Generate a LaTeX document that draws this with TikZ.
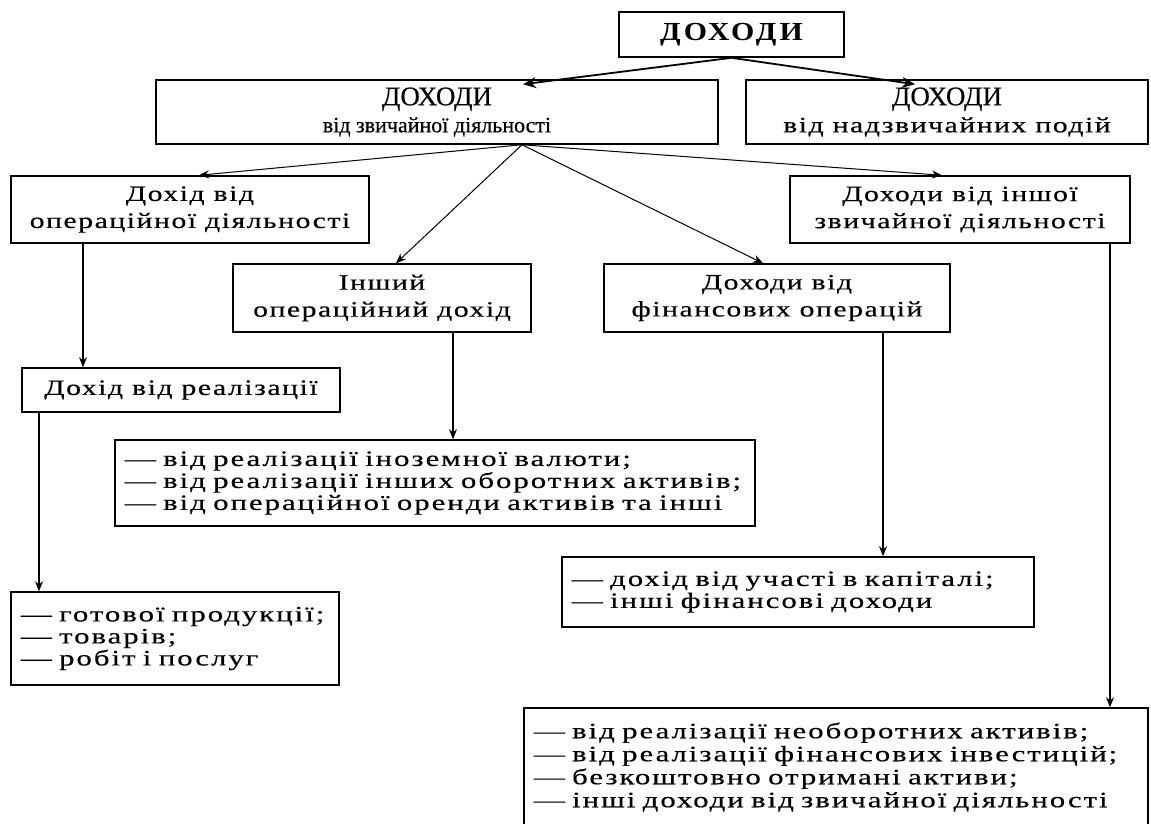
\documentclass[tikz,border=0pt]{standalone}
\usepackage{fontspec}
\setmainfont{Liberation Serif}
\newfontfamily\lblfont[FakeStretch=1.35,LetterSpace=7,FakeBold=0.4]{Liberation Serif}
\newfontfamily\listfont[FakeStretch=1.4,LetterSpace=9,FakeBold=0.4]{Liberation Serif}
\newfontfamily\headfont[FakeBold=0.4]{Liberation Serif}
\newfontfamily\topfont[FakeStretch=1.15,LetterSpace=12]{Liberation Serif}
\usetikzlibrary{arrows.meta}

\tikzset{
  box/.style={draw, line width=1.5pt, inner sep=0pt, align=center,
    font=\lblfont\fontsize{22}{27}\selectfont},
  headbox/.style={draw, line width=1.5pt, inner sep=0pt, align=center,
    font=\headfont\fontsize{22}{27}\selectfont},
  listbox/.style={draw, line width=1.5pt, inner xsep=10pt, inner ysep=0pt, align=left,
    font=\listfont\fontsize{22}{22}\selectfont},
  link/.style={line width=1.3pt, -{Stealth[length=10pt,width=8pt]}},
  thin link/.style={line width=1pt, -{Stealth[length=10pt,width=8pt]}},
  heavy link/.style={line width=1.8pt, -{Stealth[length=13pt,width=11pt]}}
}

\begin{document}
\begin{tikzpicture}[x=1pt,y=-1pt]
\useasboundingbox (0,0) rectangle (1151,823);
\fill[white] (0,0) rectangle (1151,823);
\clip (0,0) rectangle (1151,823);

% top level
\node[draw, line width=1.6pt, minimum width=225pt, minimum height=45pt, inner sep=0pt,
      font=\topfont\bfseries\fontsize{26}{28}\selectfont] (top) at (731.5,34.5) {ДОХОДИ};

% second level
\node[headbox, minimum width=562pt, minimum height=64pt] (ord) at (437,112)
  {{\fontsize{27}{28}\selectfont ДОХОДИ}\\від звичайної діяльності};
\node[headbox, minimum width=402pt, minimum height=64pt] (extra) at (947,112)
  {{\fontsize{27}{28}\selectfont ДОХОДИ}\\{\lblfont\fontsize{22}{27}\selectfont від надзвичайних подій}};

% third level
\node[box, minimum width=358pt, minimum height=67pt] (oper) at (190,209.5)
  {Дохід від\\операційної діяльності};
\node[box, minimum width=340pt, minimum height=67pt] (other) at (960,209.5)
  {Доходи від іншої\\звичайної діяльності};
\node[box, minimum width=298pt, minimum height=68pt] (otherop) at (382,298)
  {Інший\\операційний дохід};
\node[box, minimum width=346pt, minimum height=68pt] (fin) at (777,298)
  {Доходи від\\фінансових операцій};
\node[box, minimum width=318pt, minimum height=44pt] (sales) at (181,390)
  {Дохід від реалізації};

% detail lists
\node[listbox, text width=620pt, minimum height=86pt] (opl) at (435,483)
  {— від реалізації іноземної валюти;\\
   — від реалізації інших оборотних активів;\\
   — від операційної оренди активів та інші};
\node[listbox, text width=452pt, minimum height=70pt] (finl) at (798,592)
  {— дохід від участі в капіталі;\\
   — інші фінансові доходи};
\node[listbox, text width=308pt, minimum height=93pt] (salesl) at (175,638.5)
  {— готової продукції;\\
   — товарів;\\
   — робіт і послуг};
\node[listbox, text width=604pt, minimum height=118pt, font=\listfont\fontsize{22}{23}\selectfont]
  (otherl) at (836,767)
  {— від реалізації необоротних активів;\\
   — від реалізації фінансових інвестицій;\\
   — безкоштовно отримані активи;\\
   — інші доходи від звичайної діяльності};

% connectors
\draw[heavy link] (top.south) -- ([xshift=86pt,yshift=-5pt]ord.north);
\draw[heavy link] (top.south) -- ([xshift=-32pt,yshift=-5pt]extra.north);

\coordinate (hub) at ([xshift=85pt]ord.south);
\draw[thin link] (hub) -- ([xshift=9pt]oper.north);
\draw[thin link] (hub) -- ([xshift=14pt]otherop.north);
\draw[thin link] (hub) -- ([xshift=-14pt]fin.north);
\draw[thin link] (hub) -- ([xshift=-18pt]other.north);

\draw[link] ([xshift=-107pt]oper.south) -- ([xshift=-107pt]oper.south |- sales.north);
\draw[link] ([xshift=-142pt]sales.south) -- ([xshift=-142pt]sales.south |- salesl.north);
\draw[link] ([xshift=71pt]otherop.south) -- ([xshift=71pt]otherop.south |- opl.north);
\draw[link] ([xshift=106pt]fin.south) -- ([xshift=106pt]fin.south |- finl.north);
\draw[link] ([xshift=150pt]other.south) -- ([xshift=150pt]other.south |- otherl.north);
\end{tikzpicture}
\end{document}
